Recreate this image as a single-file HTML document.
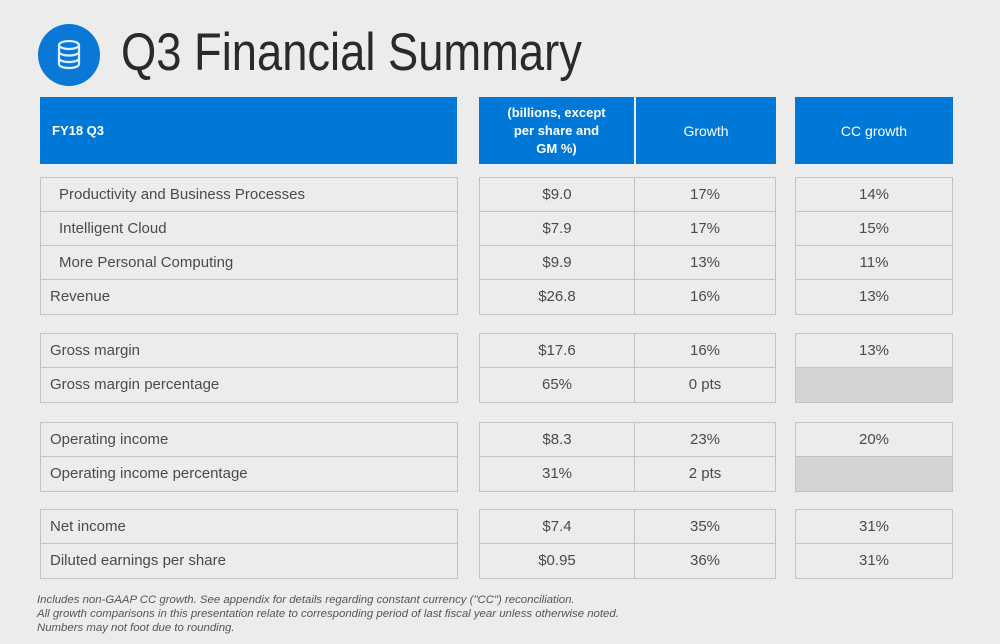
<!DOCTYPE html>
<html><head><meta charset="utf-8">
<style>
body{margin:0;width:1000px;height:644px;background:#ececec;font-family:"Liberation Sans",sans-serif;position:relative;overflow:hidden}
.a{position:absolute;box-sizing:border-box}
.hdr{background:#0078d7;color:#fff;font-size:14px;display:flex;align-items:center;justify-content:center;text-align:center;line-height:18px}
.cell{border:1.5px solid #c2c2c2;color:#4a4a4a;font-size:15px;display:flex;align-items:center;justify-content:center;background:#ececec}
.lab{justify-content:flex-start}
.foot{font-style:italic;font-size:11.4px;color:#555;left:37px;white-space:nowrap}
</style></head><body>
<div class="a" style="left:38px;top:24px;width:62px;height:62px;border-radius:50%;background:#0a78d6">
<svg width="62" height="62"><g fill="none" stroke="#dbeeff" stroke-width="2.2"><ellipse cx="31" cy="21" rx="10" ry="4"/><path d="M21 21v19c0 2.5 4.5 4 10 4s10-1.5 10-4V21M21 27.5c0 2.5 4.5 4 10 4s10-1.5 10-4M21 34c0 2.5 4.5 4 10 4s10-1.5 10-4"/></g></svg></div>
<div class="a" style="left:121px;top:22px;font-size:53px;color:#2a2a2a;transform:scaleX(0.855);transform-origin:0 0;white-space:nowrap">Q3 Financial Summary</div>

<div class="a hdr" style="left:40px;top:97px;width:417px;height:67px;justify-content:flex-start;padding-left:12px;font-weight:bold;font-size:13px">FY18 Q3</div>
<div class="a hdr" style="left:479px;top:97px;width:155px;height:67px;font-weight:bold;font-size:13px">(billions, except<br>per share and<br>GM %)</div>
<div class="a hdr" style="left:636px;top:97px;width:140px;height:67px">Growth</div>
<div class="a hdr" style="left:795px;top:97px;width:158px;height:67px">CC growth</div>

<div id="rows"></div>
<div class="a foot" style="top:594px">Includes non-GAAP CC growth. See appendix for details regarding constant currency ("CC") reconciliation.</div>
<div class="a foot" style="top:608px">All growth comparisons in this presentation relate to corresponding period of last fiscal year unless otherwise noted.</div>
<div class="a foot" style="top:622px">Numbers may not foot due to rounding.</div>
<script>
const labels=["Productivity and Business Processes","Intelligent Cloud","More Personal Computing","Revenue","Gross margin","Gross margin percentage","Operating income","Operating income percentage","Net income","Diluted earnings per share"];
const values=["$9.0","$7.9","$9.9","$26.8","$17.6","65%","$8.3","31%","$7.4","$0.95"];
const growth=["17%","17%","13%","16%","16%","0 pts","23%","2 pts","35%","36%"];
const ccGrowth=["14%","15%","11%","13%","13%","","20%","","31%","31%"];
const indented=[1,1,1,0,0,0,0,0,0,0];
const rowTops=[177,211,245,279,333,367,422,456,509,543];
const H=34;
const root=document.getElementById('rows');
function cell(x,y,w,txt,cls,name,extra){
  const d=document.createElement('div');
  d.className='a cell '+(cls||'');
  d.style.cssText=`left:${x}px;top:${y}px;width:${w}px;height:${H+1.5}px;`+(extra||'');
  d.textContent=txt;
  
  
  root.appendChild(d);
}
labels.forEach((l,i)=>{
  const y=rowTops[i];
  cell(40,y,418,l,'lab','row-label',`padding-left:${indented[i]?18:9}px`);
  cell(479,y,156,values[i],'','value-cell');
  cell(634,y,142,growth[i],'','growth-cell');
  cell(795,y,158,ccGrowth[i],'','cc-growth-cell',ccGrowth[i]===''?'background:#d4d4d4':'');
});
</script>
</body></html>
